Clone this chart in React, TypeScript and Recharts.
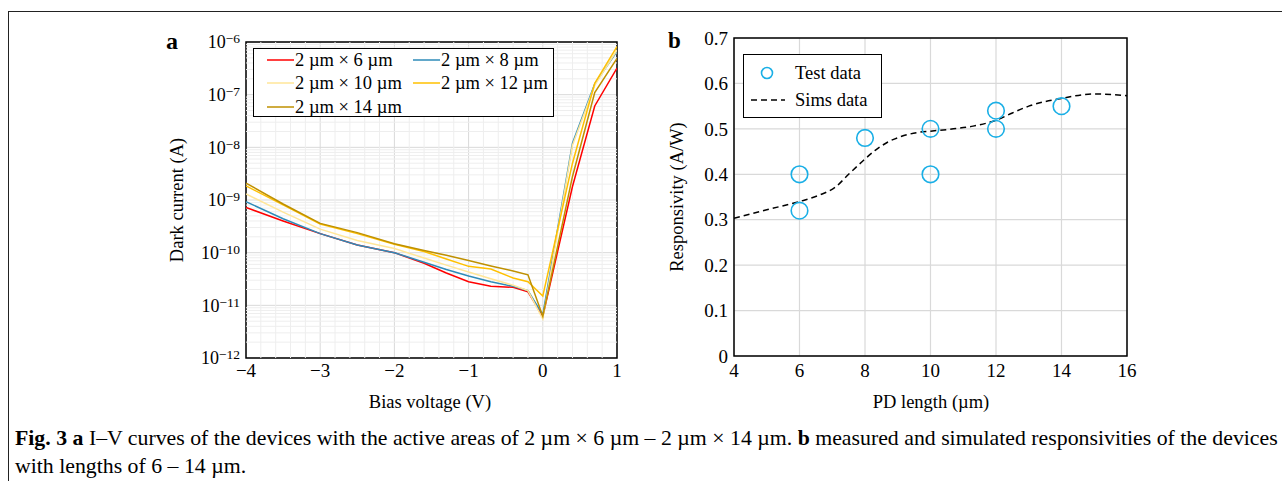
import React from 'react';
import {
  LineChart,
  Line,
  XAxis,
  YAxis,
  CartesianGrid,
  ReferenceLine,
  ReferenceArea,
  ComposedChart,
  Scatter,
} from 'recharts';

const FONT = '"Liberation Serif", "Times New Roman", serif';

// ---------- Panel a: dark current vs bias voltage ----------
const biasV = [-4, -3.5, -3, -2.5, -2, -1.6, -1.3, -1, -0.7, -0.4, -0.2, 0, 0.4, 0.7, 1];
const i2x6 = [7.2e-10, 4.0e-10, 2.3e-10, 1.4e-10, 1.0e-10, 6.3e-11, 4.1e-11, 2.8e-11, 2.3e-11, 2.2e-11, 1.8e-11, 6.2e-12, 1.8e-9, 6.1e-8, 3.2e-7];
const i2x8 = [9.3e-10, 4.4e-10, 2.3e-10, 1.4e-10, 1.0e-10, 6.6e-11, 4.8e-11, 3.6e-11, 2.8e-11, 2.3e-11, 1.9e-11, 6.6e-12, 1.2e-8, 1.6e-7, 6.6e-7];
const i2x10 = [1.3e-9, 5.9e-10, 2.8e-10, 1.7e-10, 1.2e-10, 7.9e-11, 5.8e-11, 4.3e-11, 3.2e-11, 2.4e-11, 1.9e-11, 5.5e-12, 1.1e-8, 1.5e-7, 7.0e-7];
const i2x12 = [1.85e-9, 8.1e-10, 3.5e-10, 2.3e-10, 1.45e-10, 1.05e-10, 7.6e-11, 5.5e-11, 4.9e-11, 3.3e-11, 2.8e-11, 1.5e-11, 5.0e-9, 1.65e-7, 8.2e-7];
const i2x14 = [2.1e-9, 8.4e-10, 3.6e-10, 2.4e-10, 1.48e-10, 1.1e-10, 8.9e-11, 7.1e-11, 5.6e-11, 4.5e-11, 3.8e-11, 6.2e-12, 2.8e-9, 1.1e-7, 4.9e-7];

const seriesNames = ['2 µm × 6 µm', '2 µm × 8 µm', '2 µm × 10 µm', '2 µm × 12 µm', '2 µm × 14 µm'];
const seriesKeys = ['s6', 's8', 's10', 's12', 's14'];
const seriesColors = ['#FF0000', '#2E8BB8', '#FFE699', '#FFC000', '#BF9000'];
const seriesValues = [i2x6, i2x8, i2x10, i2x12, i2x14];

const voltTicks = [-4, -3, -2, -1, 0, 1];
const currentTicks = [1e-12, 1e-11, 1e-10, 1e-9, 1e-8, 1e-7, 1e-6];
const voltMinor = [-3.8, -3.6, -3.4, -3.2, -2.8, -2.6, -2.4, -2.2, -1.8, -1.6, -1.4, -1.2, -0.8, -0.6, -0.4, -0.2, 0.2, 0.4, 0.6, 0.8];
const decadeStarts = [1e-12, 1e-11, 1e-10, 1e-9, 1e-8, 1e-7];
const minorMult = [2, 3, 4, 5, 6, 7, 8, 9];

// ---------- Panel b: responsivity vs PD length ----------
const testLen = [6, 6, 8, 10, 10, 12, 12, 14];
const testResp = [0.40, 0.32, 0.48, 0.50, 0.40, 0.54, 0.50, 0.55];
const simLen = [4, 5, 6, 6.6, 7.1, 7.5, 7.9, 8.3, 8.7, 9.1, 9.6, 10, 10.7, 11.3, 12, 12.5, 13, 14, 15, 16];
const simResp = [0.303, 0.322, 0.340, 0.354, 0.372, 0.400, 0.427, 0.452, 0.471, 0.483, 0.492, 0.495, 0.500, 0.506, 0.519, 0.535, 0.550, 0.567, 0.577, 0.573];
const lenTicks = [4, 6, 8, 10, 12, 14, 16];
const respTicks = [0, 0.1, 0.2, 0.3, 0.4, 0.5, 0.6, 0.7];

const ivData = biasV.map((v, i) => {
  const row: Record<string, number> = { v };
  seriesKeys.forEach((k, j) => {
    row[k] = seriesValues[j][i];
  });
  return row;
});
const minorCurrent: number[] = [];
decadeStarts.forEach((d) => minorMult.forEach((m) => minorCurrent.push(d * m)));

const testData = testLen.map((x, i) => ({ x, y: testResp[i] }));
const simData = simLen.map((x, i) => ({ x, y: simResp[i] }));

const fmtMinus = (v: number) => (v < 0 ? '\u2212' + Math.abs(v) : String(v));

const LogTick = (props: any) => {
  const { x, y, payload } = props;
  const exp = Math.round(Math.log10(payload.value));
  return (
    <text x={x} y={y} textAnchor="end" fontFamily={FONT} fill="#000">
      <tspan dy="0.36em" fontSize={18}>10</tspan>
      <tspan dy={-5} fontSize={13.5}>{'\u2212' + Math.abs(exp)}</tspan>
    </text>
  );
};

const tickStyle = { fontFamily: FONT, fontSize: 19, fill: '#000' };

const abs = (left: number, top: number): React.CSSProperties => ({ position: 'absolute', left, top });

const centerText = (cx: number, cy: number, text: string, rotate = false, size = 18.5): React.ReactNode => (
  <div
    style={{
      position: 'absolute',
      left: cx,
      top: cy,
      transform: `translate(-50%, -50%)${rotate ? ' rotate(-90deg)' : ''}`,
      whiteSpace: 'nowrap',
      fontFamily: FONT,
      fontSize: size,
      lineHeight: `${size}px`,
      color: '#000',
    }}
  >
    {text}
  </div>
);

export default function App() {
  return (
    <div
      style={{
        position: 'absolute',
        left: 0,
        top: 0,
        width: 1282,
        height: 481,
        overflow: 'hidden',
        background: '#fff',
        fontFamily: FONT,
      }}
    >
      {/* outer frame */}
      <div
        style={{
          position: 'absolute',
          left: 8,
          top: 11,
          width: 1300,
          height: 500,
          borderTop: '1.5px solid #222',
          borderLeft: '1.5px solid #222',
        }}
      />

      {/* panel letters */}
      <div style={{ ...abs(166, 29), fontFamily: FONT, fontWeight: 'bold', fontSize: 24, lineHeight: '24px' }}>a</div>
      <div style={{ ...abs(668, 29), fontFamily: FONT, fontWeight: 'bold', fontSize: 23, lineHeight: '23px' }}>b</div>

      {/* Panel a */}
      <div style={abs(150, 20)}>
        <LineChart width={480} height={400} data={ivData} margin={{ top: 22, right: 13, bottom: 0, left: 0 }}>
          {voltMinor.map((v) => (
            <ReferenceLine key={'vx' + v} x={v} stroke="#EEEEEE" strokeWidth={1} />
          ))}
          {minorCurrent.map((c) => (
            <ReferenceLine key={'my' + c} y={c} stroke="#EEEEEE" strokeWidth={1} />
          ))}
          <CartesianGrid stroke="#D9D9D9" strokeWidth={1} />
          <XAxis
            dataKey="v"
            type="number"
            domain={[-4, 1]}
            ticks={voltTicks}
            tickFormatter={fmtMinus}
            tick={tickStyle}
            axisLine={false}
            tickLine={false}
            tickSize={4}
            height={62}
            allowDataOverflow
          />
          <YAxis
            type="number"
            scale="log"
            domain={[1e-12, 1e-6]}
            ticks={currentTicks}
            tick={<LogTick />}
            axisLine={false}
            tickLine={false}
            tickSize={4}
            width={96}
            allowDataOverflow
          />
          {seriesKeys.map((k, j) => (
            <Line
              key={k}
              dataKey={k}
              name={seriesNames[j]}
              stroke={seriesColors[j]}
              strokeWidth={1.5}
              dot={false}
              type="linear"
              isAnimationActive={false}
            />
          ))}
          <ReferenceArea x1={-4} x2={1} y1={1e-12} y2={1e-6} fill="none" stroke="#000" strokeWidth={1.5} />
        </LineChart>
      </div>

      {/* Panel a legend */}
      <div
        style={{
          position: 'absolute',
          left: 253,
          top: 48,
          width: 301,
          height: 69,
          boxSizing: 'border-box',
          border: '1.5px solid #000',
          background: '#fff',
        }}
      >
        {seriesNames.map((n, j) => {
          const col = j % 2;
          const row = Math.floor(j / 2);
          const lx = col === 0 ? 13 : 159;
          const ly = 11 + row * 23.3;
          return (
            <div key={n} style={{ position: 'absolute', left: lx, top: ly - 10, height: 20, whiteSpace: 'nowrap' }}>
              <svg width={28} height={20} style={{ position: 'absolute', left: 0, top: 0 }}>
                <line x1={0} y1={10} x2={27} y2={10} stroke={seriesColors[j]} strokeWidth={1.5} />
              </svg>
              <span
                style={{
                  position: 'absolute',
                  left: 28,
                  top: 0,
                  fontFamily: FONT,
                  fontSize: 18.5,
                  lineHeight: '20px',
                }}
              >
                {n}
              </span>
            </div>
          );
        })}
      </div>

      {centerText(430, 402, 'Bias voltage (V)')}
      {centerText(177, 200, 'Dark current (A)', true)}

      {/* Panel b */}
      <div style={abs(650, 16)}>
        <ComposedChart width={500} height={400} margin={{ top: 22, right: 23, bottom: 0, left: 0 }}>
          <CartesianGrid stroke="#D9D9D9" strokeWidth={1.2} />
          <XAxis
            dataKey="x"
            type="number"
            domain={[4, 16]}
            ticks={lenTicks}
            tick={tickStyle}
            axisLine={false}
            tickLine={false}
            tickSize={6}
            height={60}
            allowDataOverflow
          />
          <YAxis
            type="number"
            domain={[0, 0.7]}
            ticks={respTicks}
            tickFormatter={(v: number) => (v === 0 ? '0' : v.toFixed(1))}
            tick={tickStyle}
            axisLine={false}
            tickLine={false}
            tickSize={4}
            width={84}
            allowDataOverflow
          />
          <Line
            data={simData}
            dataKey="y"
            name="Sims data"
            stroke="#000"
            strokeWidth={1.5}
            strokeDasharray="6 4"
            dot={false}
            type="monotone"
            isAnimationActive={false}
          />
          <Scatter
            data={testData}
            dataKey="y"
            name="Test data"
            isAnimationActive={false}
            shape={(p: any) => (
              <circle cx={p.cx} cy={p.cy} r={8.3} fill="none" stroke="#1AAFE6" strokeWidth={1.6} />
            )}
          />
          <ReferenceArea x1={4} x2={16} y1={0} y2={0.7} fill="none" stroke="#000" strokeWidth={1.5} />
        </ComposedChart>
      </div>

      {/* Panel b legend */}
      <div
        style={{
          position: 'absolute',
          left: 743,
          top: 54,
          width: 139,
          height: 64,
          boxSizing: 'border-box',
          border: '1.5px solid #000',
          background: '#fff',
        }}
      >
        <svg width={50} height={60} style={{ position: 'absolute', left: 0, top: 0 }}>
          <circle cx={23} cy={18} r={5.5} fill="none" stroke="#1AAFE6" strokeWidth={1.6} />
          <line x1={7} y1={45} x2={41} y2={45} stroke="#000" strokeWidth={1.5} strokeDasharray="6 4" />
        </svg>
        <span style={{ position: 'absolute', left: 51, top: 8, fontFamily: FONT, fontSize: 18.5, lineHeight: '20px', whiteSpace: 'nowrap' }}>
          Test data
        </span>
        <span style={{ position: 'absolute', left: 51, top: 35, fontFamily: FONT, fontSize: 18.5, lineHeight: '20px', whiteSpace: 'nowrap' }}>
          Sims data
        </span>
      </div>

      {centerText(931, 402, 'PD length (µm)')}
      {centerText(677, 197, 'Responsivity (A/W)', true)}

      {/* Caption */}
      <div
        style={{
          position: 'absolute',
          left: 15,
          top: 424,
          fontFamily: FONT,
          fontSize: 21.8,
          lineHeight: '28px',
          whiteSpace: 'nowrap',
          color: '#000',
        }}
      >
        <div>
          <b>Fig. 3</b> <b>a</b> I–V curves of the devices with the active areas of 2 µm × 6 µm – 2 µm × 14 µm. <b>b</b> measured and simulated
          responsivities of the devices
        </div>
        <div>with lengths of 6 – 14 µm.</div>
      </div>
    </div>
  );
}
